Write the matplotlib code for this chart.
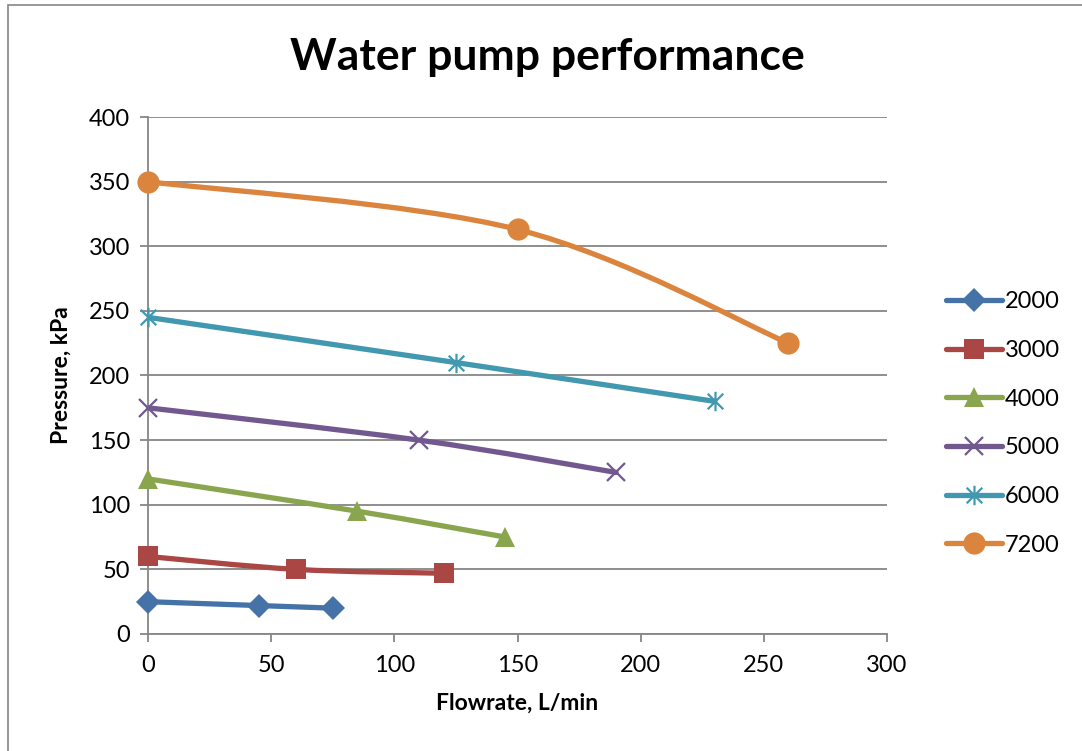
import numpy as np
import matplotlib.pyplot as plt
from matplotlib.path import Path
from matplotlib.patches import PathPatch, Rectangle
from matplotlib.lines import Line2D

plt.rcParams['font.family'] = ['Lato', 'DejaVu Sans']

# ---------- Data ----------
speeds = ['2000', '3000', '4000', '5000', '6000', '7200']
flow_2000 = [0, 45, 75]
pres_2000 = [25, 22, 20]
flow_3000 = [0, 60, 120]
pres_3000 = [60, 50, 47]
flow_4000 = [0, 85, 145]
pres_4000 = [120, 95, 75]
flow_5000 = [0, 110, 190]
pres_5000 = [175, 150, 125]
flow_6000 = [0, 125, 230]
pres_6000 = [245, 210, 180]
flow_7200 = [0, 150, 260]
pres_7200 = [350, 313, 225]

x_ticks = [0, 50, 100, 150, 200, 250, 300]
y_ticks = [0, 50, 100, 150, 200, 250, 300, 350, 400]

colors = ['#4572A7', '#AA4643', '#89A54E', '#71588F', '#4198AF', '#DB843D']

# asterisk marker: vertical line plus an X
star_path = Path(
    [(0, -1), (0, 1), (-0.8, -0.8), (0.8, 0.8), (-0.8, 0.8), (0.8, -0.8)],
    [Path.MOVETO, Path.LINETO] * 3,
)
marker_styles = [
    dict(marker='D', markersize=12, markeredgewidth=0),
    dict(marker='s', markersize=14, markeredgewidth=0),
    dict(marker='^', markersize=15, markeredgewidth=0),
    dict(marker='x', markersize=13, markeredgewidth=1.6),
    dict(marker=star_path, markersize=14, markeredgewidth=1.6),
    dict(marker='o', markersize=16, markeredgewidth=0),
]

series = [
    (flow_2000, pres_2000), (flow_3000, pres_3000), (flow_4000, pres_4000),
    (flow_5000, pres_5000), (flow_6000, pres_6000), (flow_7200, pres_7200),
]


def smooth_path(xs, ys):
    """Catmull-Rom style Bezier through the points (like Excel smoothed lines)."""
    pts = np.column_stack([xs, ys]).astype(float)
    n = len(pts)
    verts = [pts[0]]
    codes = [Path.MOVETO]
    for i in range(n - 1):
        p0 = pts[max(i - 1, 0)]
        p1 = pts[i]
        p2 = pts[i + 1]
        p3 = pts[min(i + 2, n - 1)]
        verts += [p1 + (p2 - p0) / 6, p2 - (p3 - p1) / 6, p2]
        codes += [Path.CURVE4] * 3
    return Path(verts, codes)


# ---------- Plotting ----------
fig = plt.figure(figsize=(10.82, 7.51), dpi=100)
ax = fig.add_axes([0.1368, 0.1558, 0.683, 0.6884])

grid_col = '#868686'
handles = []
for (xs, ys), col, ms, lab in zip(series, colors, marker_styles, speeds):
    ax.add_patch(PathPatch(smooth_path(xs, ys), fill=False, edgecolor=col,
                           linewidth=3.8, capstyle='round', zorder=3))
    ax.plot(xs, ys, linestyle='none', color=col, markerfacecolor=col,
            markeredgecolor=col, clip_on=False, zorder=4, **ms)
    handles.append(Line2D([], [], color=col, linewidth=3.8,
                          solid_capstyle='round', markerfacecolor=col,
                          markeredgecolor=col, label=lab, **ms))

ax.set_xlim(0, 300)
ax.set_ylim(0, 400)
ax.set_xticks(x_ticks)
ax.set_yticks(y_ticks)
ax.yaxis.grid(True, color=grid_col, linewidth=1.3)
ax.set_axisbelow(True)
for s in ['top', 'right']:
    ax.spines[s].set_visible(False)
for s in ['left', 'bottom']:
    ax.spines[s].set_color(grid_col)
    ax.spines[s].set_linewidth(1.3)
ax.tick_params(axis='both', colors=grid_col, labelcolor='black',
               labelsize=17, length=6, width=1.3, direction='out')
ax.tick_params(axis='y', pad=7)
ax.tick_params(axis='x', pad=9)

ax.set_xlabel('Flowrate, L/min', fontsize=16.5, fontweight='bold', labelpad=12)
ax.set_ylabel('Pressure, kPa', fontsize=16.5, fontweight='bold', labelpad=12)

fig.text(0.5055, 0.924, 'Water pump performance', fontsize=32,
         fontweight='bold', ha='center', va='center')

fig.legend(handles=handles, loc='upper left', bbox_to_anchor=(0.874, 0.612),
           frameon=False, fontsize=17, handlelength=2.4, handletextpad=0.1,
           labelspacing=1.17, borderpad=0, borderaxespad=0)

# chart border
fig.add_artist(Rectangle((8 / 1082, -0.1), 1.2, 1.1 - 5 / 751,
                         transform=fig.transFigure, fill=False,
                         edgecolor=grid_col, linewidth=1.2))

fig.savefig('out.png', dpi=100)
